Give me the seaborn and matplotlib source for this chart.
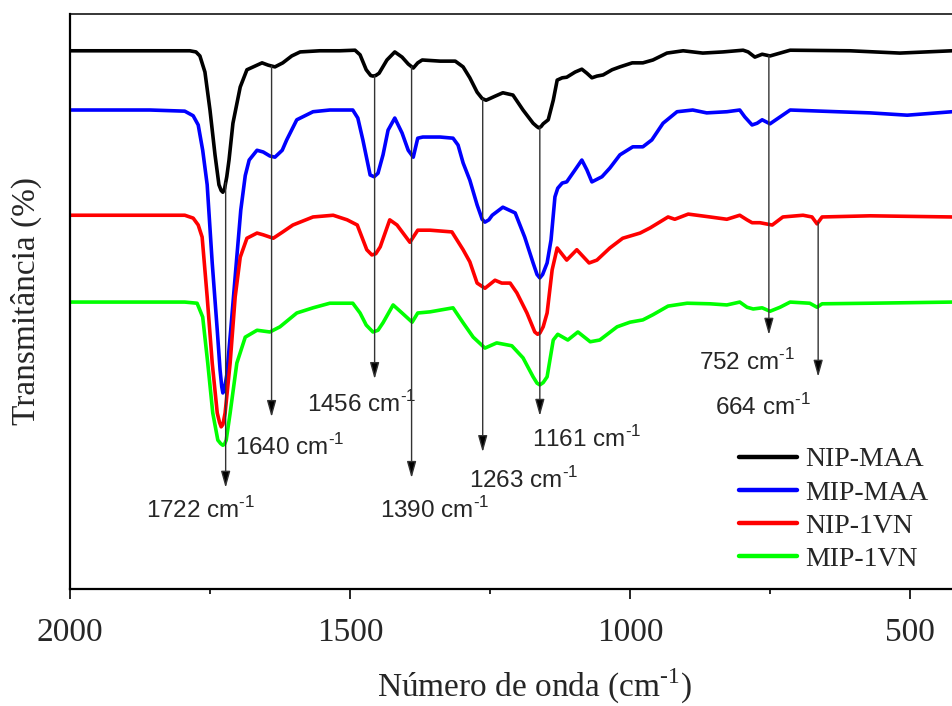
import numpy as np
import pandas as pd
import matplotlib
matplotlib.use("Agg")
import matplotlib.pyplot as plt
from matplotlib.lines import Line2D
import seaborn as sns

# FTIR spectra (wavenumber in cm^-1, transmittance in arbitrary offset units)
nip_maa_w = [2000, 1857, 1786, 1775, 1768, 1759, 1750, 1741, 1734, 1730, 1727, 1724, 1720, 1716,
             1709, 1696, 1684, 1666, 1657, 1646, 1634, 1620, 1604, 1589, 1554, 1518, 1491, 1482,
             1471, 1463, 1459, 1454, 1448, 1434, 1420, 1407, 1396, 1387, 1379, 1371, 1339, 1312,
             1298, 1286, 1273, 1264, 1257, 1250, 1241, 1227, 1209, 1191, 1173, 1166, 1163, 1159,
             1155, 1146, 1137, 1130, 1121, 1113, 1098, 1086, 1077, 1068, 1059, 1048, 1032, 1018,
             996, 977, 959, 934, 905, 870, 834, 798, 789, 777, 764, 750, 732, 714, 607, 518, 425]
nip_maa_t = [93.6, 93.6, 93.6, 93.4, 92.7, 89.9, 83.3, 75.5, 70.3, 69.3, 69.0, 69.6, 71.7, 74.6,
             81.0, 87.3, 90.3, 91.1, 91.5, 91.1, 90.8, 91.5, 92.7, 93.4, 93.6, 93.6, 93.7, 92.9,
             90.3, 89.3, 89.2, 89.3, 89.7, 92.0, 93.4, 92.5, 91.3, 90.6, 91.5, 92.0, 91.8, 91.8,
             90.8, 88.9, 86.4, 85.3, 85.0, 85.3, 85.7, 86.3, 85.9, 83.3, 81.0, 80.4, 80.2, 80.4,
             80.9, 81.6, 85.0, 88.5, 88.9, 89.0, 89.9, 90.4, 89.7, 88.9, 89.2, 89.4, 90.3, 90.8,
             91.5, 91.5, 92.0, 93.2, 93.6, 93.2, 93.4, 93.7, 93.4, 92.5, 93.0, 92.7, 93.2, 93.7,
             93.6, 93.2, 93.6]

mip_maa_w = [2000, 1857, 1795, 1780, 1771, 1763, 1755, 1746, 1737, 1732, 1729, 1727, 1724, 1720,
             1713, 1704, 1695, 1687, 1680, 1666, 1655, 1643, 1634, 1621, 1613, 1595, 1566, 1536,
             1495, 1486, 1477, 1464, 1457, 1450, 1441, 1432, 1420, 1407, 1396, 1387, 1379, 1370,
             1339, 1316, 1307, 1298, 1286, 1273, 1264, 1259, 1252, 1246, 1227, 1205, 1188, 1173,
             1166, 1161, 1156, 1148, 1141, 1134, 1129, 1121, 1113, 1098, 1086, 1077, 1068, 1050,
             1036, 1018, 995, 977, 961, 941, 916, 888, 863, 827, 804, 795, 782, 773, 764, 750, 732,
             714, 630, 571, 505, 425]
mip_maa_t = [83.3, 83.3, 83.1, 82.3, 80.7, 76.3, 70.3, 56.7, 45.0, 38.1, 35.2, 34.1, 34.9, 37.2,
             45.0, 55.5, 65.9, 71.9, 74.6, 76.3, 76.0, 75.3, 75.1, 76.3, 78.1, 81.6, 83.0, 83.3,
             83.3, 81.9, 78.1, 72.0, 71.7, 72.3, 75.5, 79.8, 81.9, 79.3, 76.3, 75.1, 78.4, 78.6,
             78.6, 78.4, 77.2, 74.1, 71.1, 66.8, 64.3, 63.8, 64.2, 65.0, 66.4, 65.4, 61.2, 56.7,
             54.7, 54.1, 54.7, 56.7, 60.7, 68.2, 69.7, 70.6, 70.8, 72.9, 74.6, 72.9, 70.8, 71.7,
             73.2, 75.5, 76.9, 76.9, 78.1, 81.0, 83.0, 83.3, 82.8, 83.0, 83.3, 82.1, 80.7, 81.0,
             81.6, 80.9, 82.1, 83.3, 83.0, 82.8, 82.4, 83.0]

nip_1vn_w = [2000, 1857, 1795, 1780, 1771, 1764, 1755, 1746, 1737, 1733, 1730, 1727, 1723, 1714,
             1705, 1696, 1684, 1666, 1655, 1637, 1620, 1602, 1566, 1530, 1505, 1487, 1470, 1461,
             1454, 1446, 1429, 1416, 1393, 1379, 1357, 1318, 1298, 1286, 1273, 1259, 1241, 1229,
             1214, 1202, 1184, 1170, 1165, 1161, 1155, 1148, 1139, 1130, 1113, 1095, 1073, 1059,
             1036, 1013, 982, 964, 932, 920, 896, 857, 827, 804, 791, 782, 768, 746, 727, 691,
             675, 666, 657, 571, 425]
nip_1vn_t = [65.0, 65.0, 65.0, 64.5, 63.3, 61.2, 50.8, 39.3, 30.6, 29.0, 28.2, 28.6, 30.6, 39.3,
             50.8, 57.7, 61.0, 61.9, 61.6, 61.0, 62.1, 63.3, 64.7, 65.0, 64.2, 63.3, 59.0, 58.1,
             58.3, 59.5, 64.2, 63.3, 60.3, 62.4, 62.4, 62.1, 59.0, 56.9, 53.2, 52.3, 53.7, 53.2,
             53.2, 51.5, 48.0, 44.7, 44.3, 44.5, 45.6, 48.0, 55.5, 59.3, 57.2, 59.0, 56.7, 57.2,
             59.3, 61.0, 61.9, 62.8, 64.7, 64.3, 65.2, 64.7, 64.3, 65.0, 64.2, 63.7, 63.7, 63.3,
             64.7, 65.0, 64.7, 63.5, 64.7, 64.9, 64.7]

mip_1vn_w = [2000, 1857, 1795, 1773, 1763, 1754, 1745, 1736, 1731, 1727, 1724, 1721, 1714, 1702,
             1687, 1666, 1643, 1625, 1595, 1566, 1536, 1495, 1482, 1471, 1459, 1450, 1441, 1423,
             1407, 1389, 1379, 1357, 1316, 1298, 1280, 1259, 1238, 1211, 1191, 1173, 1166, 1161,
             1155, 1148, 1137, 1129, 1111, 1093, 1071, 1054, 1023, 1000, 977, 959, 932, 898, 857,
             827, 804, 791, 780, 764, 750, 732, 714, 679, 666, 657, 571, 425]
mip_1vn_t = [49.9, 49.9, 49.9, 49.7, 47.3, 39.3, 30.6, 25.9, 25.3, 25.0, 25.2, 25.9, 30.6, 39.3,
             43.8, 45.0, 44.7, 45.6, 48.0, 48.9, 49.7, 49.7, 48.0, 45.9, 44.7, 45.0, 46.3, 49.4,
             48.0, 46.4, 48.0, 48.2, 48.9, 46.3, 43.8, 41.9, 42.8, 42.3, 40.2, 36.9, 35.8, 35.5,
             35.9, 36.9, 43.3, 44.3, 43.3, 44.7, 43.0, 43.3, 45.6, 46.4, 46.8, 47.7, 49.2, 49.7,
             49.6, 49.4, 49.9, 49.0, 48.7, 48.9, 48.3, 49.0, 49.9, 49.7, 49.0, 49.6, 49.7, 49.9]

series_names = ["NIP-MAA", "MIP-MAA", "NIP-1VN", "MIP-1VN"]
series_colors = ["#000000", "#0000FF", "#FF0000", "#00FF00"]

# Band assignments marked on the spectra
band_values = [1722, 1640, 1456, 1390, 1263, 1161, 752, 664]
band_source = ["NIP-MAA"] * 7 + ["NIP-1VN"]

# Layout of the band annotations: arrow tip, label centre x, label baseline
band_tip_y = [17.6, 29.9, 36.5, 19.3, 23.8, 30.1, 44.2, 36.9]
band_label_x = [1766, 1607, 1479, 1348, 1189, 1077, 791, 763]
band_label_y = [12.3, 23.3, 30.8, 12.3, 17.6, 24.7, 38.1, 30.3]

frames = []
for name, w, t in zip(series_names,
                      [nip_maa_w, mip_maa_w, nip_1vn_w, mip_1vn_w],
                      [nip_maa_t, mip_maa_t, nip_1vn_t, mip_1vn_t]):
    frames.append(pd.DataFrame({"wavenumber": w, "transmittance": t, "sample": name}))
df = pd.concat(frames, ignore_index=True)

sns.set_theme(style="white")
plt.rcParams["font.family"] = ["Liberation Serif", "DejaVu Serif"]
plt.rcParams["mathtext.fontset"] = "custom"
plt.rcParams["mathtext.rm"] = "Liberation Serif"

fig = plt.figure(figsize=(9.52, 7.06), dpi=100)
ax = fig.add_axes([0.0735, 0.1657, 0.9265, 0.8145])

sns.lineplot(data=df, x="wavenumber", y="transmittance", hue="sample",
             hue_order=series_names, palette=series_colors, estimator=None,
             sort=False, linewidth=2.6, ax=ax, legend=False,
             solid_joinstyle="round", solid_capstyle="round")

ax.set_xlim(2000, 425)
ax.set_ylim(0, 100)

SUP = "$^{\\mathregular{\u2010 1}}$".replace(" ", "")

# annotation arrows from the upper spectrum down to each label
for val, src, tip, lx, ly in zip(band_values, band_source, band_tip_y,
                                 band_label_x, band_label_y):
    sub = df[df["sample"] == src].sort_values("wavenumber")
    start = np.interp(val, sub["wavenumber"], sub["transmittance"])
    ax.annotate("", xy=(val, tip), xytext=(val, start),
                arrowprops=dict(arrowstyle="-|>,head_length=1.0,head_width=0.28",
                                ec="#333333", fc="black", lw=1.0,
                                shrinkA=0, shrinkB=0, mutation_scale=10))
    ax.text(lx, ly, f"{val} cm" + SUP, ha="center", va="baseline",
            fontsize=17.5, family=["Liberation Sans", "DejaVu Sans"])

ax.set_xticks([2000, 1500, 1000, 500])
ax.set_xticks([1750, 1250, 750], minor=True)
ax.set_yticks([])
ax.tick_params(axis="x", which="major", direction="out", length=7.2, width=1.2,
               pad=13, labelsize=24, bottom=True, color="black")
ax.tick_params(axis="x", which="minor", direction="out", length=3.6, width=1.2,
               bottom=True, color="black")

for side in ["left", "bottom"]:
    ax.spines[side].set_linewidth(1.6)
    ax.spines[side].set_color("black")
ax.spines["top"].set_linewidth(1.1)
ax.spines["top"].set_color("black")
ax.spines["right"].set_visible(False)

ax.set_xlabel("Número de onda (cm" + SUP + ")", fontsize=24)
ax.set_ylabel("Transmitância (%)", fontsize=24)
ax.xaxis.set_label_coords(0.527, -0.135)
ax.yaxis.set_label_coords(-0.032, 0.5)

handles = [Line2D([], [], color=c, lw=3.2) for c in series_colors]
ax.legend(handles, series_names, loc="upper left",
          bbox_to_anchor=(0.776, 0.367), bbox_transform=fig.transFigure,
          frameon=False, fontsize=20, handlelength=2.1, handletextpad=0.3,
          labelspacing=0.28, borderpad=0, borderaxespad=0)

fig.savefig("out.png", dpi=100)
